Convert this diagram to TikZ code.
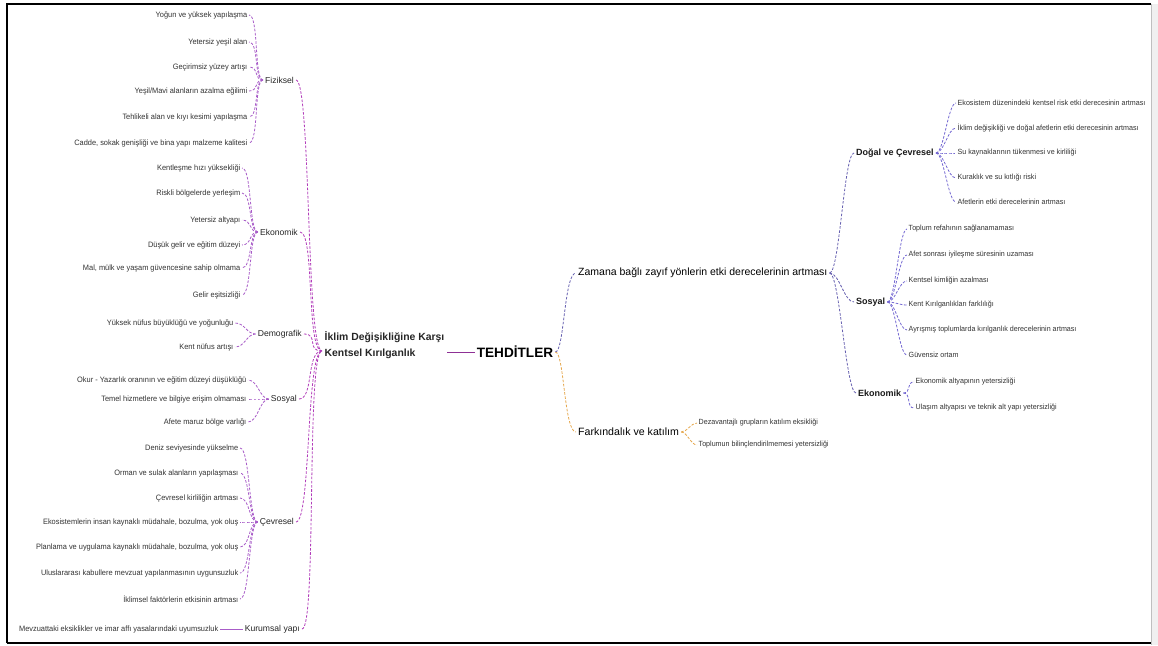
\documentclass[tikz,border=0pt]{standalone}
\usepackage{fontspec}
\setmainfont{Liberation Sans}
\newfontfamily\leaffont[FakeStretch=0.95]{Liberation Sans}
\usetikzlibrary{positioning}
\definecolor{MindMag}{HTML}{B23CBA}
\definecolor{MindLeaf}{HTML}{A85CC8}
\definecolor{MindBlue}{HTML}{6660B0}
\definecolor{MindLeafB}{HTML}{7468D2}
\definecolor{MindOrange}{HTML}{E6A84E}

\begin{document}
\begin{tikzpicture}[x=1pt,y=-1pt,
  leafl/.style={anchor=east,inner sep=1.5pt,text=black!80,font=\leaffont\fontsize{7.8}{9}\selectfont},
  leafr/.style={anchor=west,inner sep=1.5pt,text=black!80,font=\leaffont\fontsize{7.5}{8}\selectfont},
  catl/.style={anchor=east,inner sep=2pt,text=black!85,font=\fontsize{8.6}{10}\selectfont},
  catr/.style={anchor=west,inner sep=2pt,text=black!90,font=\bfseries\fontsize{9}{10}\selectfont},
  lnk/.style={dash pattern=on 2.6pt off 1.6pt,line width=0.8pt},
]
\useasboundingbox (0,0) rectangle (1158,645);
\fill[white] (0,0) rectangle (1158,645);
\fill[black!6] (1151,4) rectangle (1158,645);
\draw[black!25,line width=1pt] (1151,4) -- (1151,645);
\draw[line width=2.6pt] (7,643) -- (7,4) -- (1151,4);
\draw[line width=1.2pt] (7,643) -- (1151,643);

% centre
\node[anchor=west,align=left,inner sep=2.5pt,font=\bfseries\fontsize{10.4}{16.5}\selectfont,text=black!85] (klm) at (322,345)
  {İklim Değişikliğine Karşı\\Kentsel Kırılganlık};
\coordinate (klmin) at ([yshift=-6pt]klm.west);
\node[inner sep=2pt,font=\bfseries\fontsize{13.6}{15}\selectfont] (root) at (515,352) {TEHDİTLER};
\draw[MindMag!80!black,line width=0.8pt] (root.west -| klm.east) -- (root.west);

% left side
\node[catl] (fiz) at (296,80) {Fiziksel};
\node[catl] (eko) at (300,232) {Ekonomik};
\node[catl] (dem) at (304,334) {Demografik};
\node[catl] (sos) at (299,399) {Sosyal};
\node[catl] (cev) at (296,522) {Çevresel};
\node[catl] (kur) at (302,629) {Kurumsal yapı};
\foreach \c in {fiz,eko,dem,sos,cev,kur}
  \draw[lnk,MindMag] (\c.east) .. controls +(15,0) and +(-16,0) .. (klmin);

\foreach \y/\t [count=\i] in {15/Yoğun ve yüksek yapılaşma, 42/Yetersiz yeşil alan,
    67/Geçirimsiz yüzey artışı, 91/{Yeşil/Mavi alanların azalma eğilimi},
    117/Tehlikeli alan ve kıyı kesimi yapılaşma,
    {143/Cadde, sokak genişliği ve bina yapı malzeme kalitesi}}{
  \node[leafl] (fiz\i) at (249,\y) {\t};
  \draw[lnk,MindLeaf] (fiz.west) .. controls +(-9,0) and +(10,0) .. (fiz\i.east);
}
\foreach \y/\t [count=\i] in {168/Kentleşme hızı yüksekliği, 193/Riskli bölgelerde yerleşim,
    220/Yetersiz altyapı, 245/Düşük gelir ve eğitim düzeyi,
    {268/Mal, mülk ve yaşam güvencesine sahip olmama}, 295/Gelir eşitsizliği}{
  \node[leafl] (eko\i) at (242,\y) {\t};
  \draw[lnk,MindLeaf] (eko.west) .. controls +(-9,0) and +(10,0) .. (eko\i.east);
}
\foreach \y/\t [count=\i] in {323/Yüksek nüfus büyüklüğü ve yoğunluğu, 347/Kent nüfus artışı}{
  \node[leafl] (dem\i) at (235,\y) {\t};
  \draw[lnk,MindLeaf] (dem.west) .. controls +(-9,0) and +(10,0) .. (dem\i.east);
}
\foreach \y/\t [count=\i] in {380/Okur - Yazarlık oranının ve eğitim düzeyi düşüklüğü,
    399/Temel hizmetlere ve bilgiye erişim olmaması, 422/Afete maruz bölge varlığı}{
  \node[leafl] (sos\i) at (248,\y) {\t};
  \draw[lnk,MindLeaf] (sos.west) .. controls +(-9,0) and +(10,0) .. (sos\i.east);
}
\foreach \y/\t [count=\i] in {448/Deniz seviyesinde yükselme, 473/Orman ve sulak alanların yapılaşması,
    498/Çevresel kirliliğin artması,
    {522/Ekosistemlerin insan kaynaklı müdahale, bozulma, yok oluş},
    {547/Planlama ve uygulama kaynaklı müdahale, bozulma, yok oluş},
    573/Uluslararası kabullere mevzuat yapılanmasının uygunsuzluk,
    599/İklimsel faktörlerin etkisinin artması}{
  \node[leafl] (cev\i) at (240,\y) {\t};
  \draw[lnk,MindLeaf] (cev.west) .. controls +(-9,0) and +(10,0) .. (cev\i.east);
}
\node[leafl] (kur1) at (220,629) {Mevzuattaki eksiklikler ve imar affı yasalarındaki uyumsuzluk};
\draw[MindLeaf,line width=0.8pt] (kur.west) -- (kur1.east);

% right side
\node[anchor=west,inner sep=2pt,font=\fontsize{10.5}{12}\selectfont] (zam) at (576,273)
  {Zamana bağlı zayıf yönlerin etki derecelerinin artması};
\node[anchor=west,inner sep=2pt,font=\fontsize{10.6}{12}\selectfont] (far) at (576,432)
  {Farkındalık ve katılım};
\draw[lnk,MindBlue] (root.east) .. controls +(9,0) and +(-12,0) .. (zam.west);
\draw[lnk,MindOrange] (root.east) .. controls +(9,0) and +(-12,0) .. (far.west);

\node[catr] (dog) at (854,153) {Doğal ve Çevresel};
\node[catr] (sos2) at (854,302) {Sosyal};
\node[catr] (eko2) at (856,393) {Ekonomik};
\foreach \c in {dog,sos2,eko2}
  \draw[lnk,MindBlue] (zam.east) .. controls +(10,0) and +(-10,0) .. (\c.west);

\foreach \y/\t [count=\i] in {103/Ekosistem düzenindeki kentsel risk etki derecesinin artması,
    128/İklim değişikliği ve doğal afetlerin etki derecesinin artması,
    153/Su kaynaklarının tükenmesi ve kirliliği, 178/Kuraklık ve su kıtlığı riski,
    202/Afetlerin etki derecelerinin artması}{
  \node[leafr] (dog\i) at (956,\y) {\t};
  \draw[lnk,MindLeafB] (dog.east) .. controls +(8,0) and +(-8,0) .. (dog\i.west);
}
\foreach \y/\t [count=\i] in {229/Toplum refahının sağlanamaması, 255/Afet sonrası iyileşme süresinin uzaması,
    281/Kentsel kimliğin azalması, 305/Kent Kırılganlıkları farklılığı,
    330/Ayrışmış toplumlarda kırılganlık derecelerinin artması, 355/Güvensiz ortam}{
  \node[leafr] (sos2\i) at (907,\y) {\t};
  \draw[lnk,MindLeafB] (sos2.east) .. controls +(8,0) and +(-8,0) .. (sos2\i.west);
}
\foreach \y/\t [count=\i] in {382/Ekonomik altyapının yetersizliği,
    408/Ulaşım altyapısı ve teknik alt yapı yetersizliği}{
  \node[leafr] (eko2\i) at (914,\y) {\t};
  \draw[lnk,MindLeafB] (eko2.east) .. controls +(8,0) and +(-8,0) .. (eko2\i.west);
}
\foreach \y/\t [count=\i] in {423/Dezavantajlı grupların katılım eksikliği,
    445/Toplumun bilinçlendirilmemesi yetersizliği}{
  \node[leafr] (far\i) at (697,\y) {\t};
  \draw[lnk,MindOrange] (far.east) .. controls +(6,0) and +(-6,0) .. (far\i.west);
}
\end{tikzpicture}
\end{document}
